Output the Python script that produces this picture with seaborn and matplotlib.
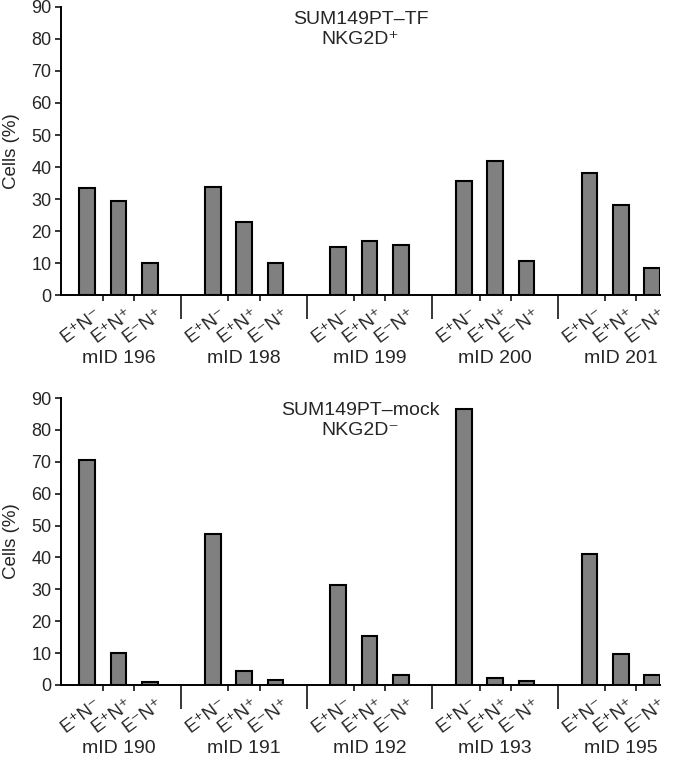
import pandas as pd
import matplotlib
matplotlib.use("Agg")
import matplotlib.pyplot as plt
import seaborn as sns

# Data
subsets = ["E⁺N⁻", "E⁺N⁺", "E⁻N⁺"]

tf_mice = ["mID 196", "mID 198", "mID 199", "mID 200", "mID 201"]
tf_values = [
    [33.3, 29.4, 10.1],
    [33.6, 22.7, 9.9],
    [15.1, 16.9, 15.6],
    [35.7, 41.8, 10.7],
    [38.0, 28.1, 8.5],
]

mock_mice = ["mID 190", "mID 191", "mID 192", "mID 193", "mID 195"]
mock_values = [
    [70.6, 9.9, 0.9],
    [47.4, 4.4, 1.6],
    [31.4, 15.5, 3.0],
    [86.6, 2.1, 1.3],
    [41.1, 9.6, 3.2],
]

panel_titles = ["SUM149PT\u2013TF\nNKG2D\u207a", "SUM149PT\u2013mock\nNKG2D\u207b"]

sns.set_theme(style="white")
plt.rcParams["font.family"] = ["Liberation Sans", "DejaVu Sans"]


def build_frame(mice, values):
    rows = []
    for g, (mouse, vals) in enumerate(zip(mice, values)):
        for b, (subset, v) in enumerate(zip(subsets, vals)):
            rows.append({"mouse": mouse, "subset": subset, "pos": g * 4 + b, "cells": v})
    return pd.DataFrame(rows)


def draw_panel(ax, mice, values, title):
    df = build_frame(mice, values)
    sns.barplot(data=df, x="pos", y="cells", native_scale=True, width=0.5,
                color="#808080", saturation=1, edgecolor="black", linewidth=1.5, ax=ax)

    ax.set_ylim(0, 90)
    ax.set_xlim(-0.83, 18.25)
    ax.set_yticks(range(0, 91, 10))
    ax.tick_params(axis="y", direction="out", length=4, width=1.3, labelsize=13, pad=3, left=True)
    ax.set_ylabel("Cells (%)", fontsize=13.5, labelpad=8)
    ax.set_xlabel("")

    # long separator ticks between groups, short ticks between bars
    n = len(mice)
    ax.set_xticks([g * 4 + 3 for g in range(n - 1)])
    ax.set_xticklabels([])
    ax.set_xticks([g * 4 + b + 0.5 for g in range(n) for b in range(2)], minor=True)
    ax.tick_params(axis="x", which="major", direction="out", length=17, width=1.3, bottom=True)
    ax.tick_params(axis="x", which="minor", direction="out", length=4, width=1.3, bottom=True)

    for s in ["top", "right"]:
        ax.spines[s].set_visible(False)
    for s in ["left", "bottom"]:
        ax.spines[s].set_color("black")
        ax.spines[s].set_linewidth(1.4)

    for _, r in df.iterrows():
        ax.annotate(r["subset"], xy=(r["pos"], 0), xycoords=("data", "axes fraction"),
                    xytext=(5, -7), textcoords="offset points", rotation=37,
                    rotation_mode="anchor", ha="right", va="top", fontsize=13.5)
    for g, mouse in enumerate(mice):
        ax.annotate(mouse, xy=(g * 4 + 1, 0), xycoords=("data", "axes fraction"),
                    xytext=(0, -46), textcoords="offset points",
                    ha="center", va="center", fontsize=14)

    ax.text(0.5, 0.985, title, transform=ax.transAxes, ha="center", va="top",
            fontsize=14, linespacing=1.2)


fig = plt.figure(figsize=(6.78, 7.59), dpi=100)
ax_top = fig.add_axes([0.09, 0.6113, 0.8835, 0.3795])
ax_bot = fig.add_axes([0.09, 0.0975, 0.8835, 0.378])

draw_panel(ax_top, tf_mice, tf_values, panel_titles[0])
draw_panel(ax_bot, mock_mice, mock_values, panel_titles[1])

fig.savefig("out.png", dpi=100, facecolor="white")
